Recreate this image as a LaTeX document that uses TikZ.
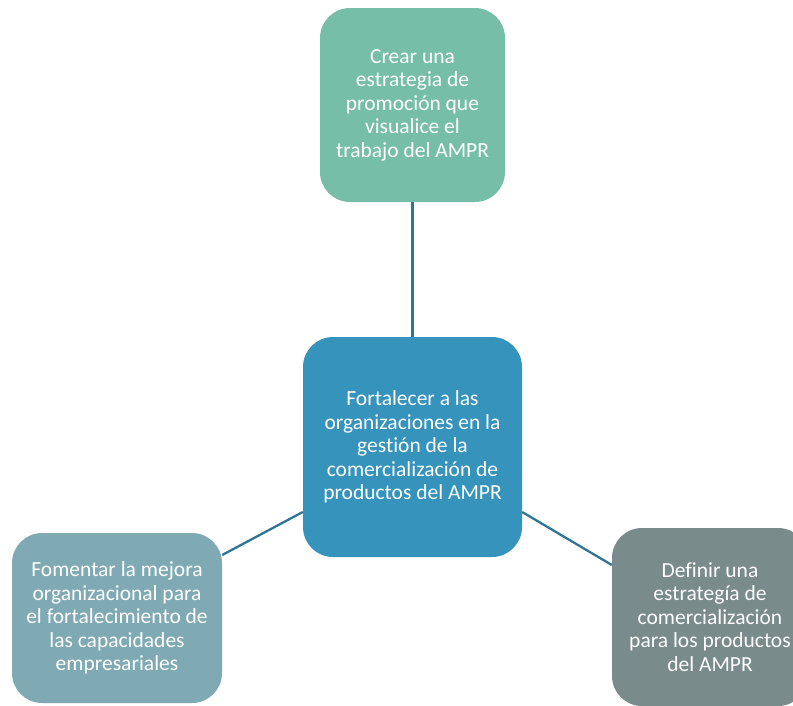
\documentclass[tikz,border=0pt]{standalone}
\usepackage{fontspec}
\setmainfont{Carlito}[Ligatures={NoCommon}]
\usepackage{tikz}

\definecolor{crear}{HTML}{76BEA8}
\definecolor{fortalecer}{HTML}{3593BC}
\definecolor{fomentar}{HTML}{7FAAB4}
\definecolor{definir}{HTML}{798B8A}
\definecolor{enlace}{HTML}{2E7596}

\begin{document}
\begin{tikzpicture}[x=1pt,y=1pt,
    caja/.style={rounded corners=30pt,text=white,align=center,font=\fontsize{21.5}{23.5}\selectfont},
    enlace/.style={draw=enlace,line width=2.3pt}]
    \useasboundingbox (0,0) rectangle (793,-705);
    \node[caja,fill=crear,minimum width=185,minimum height=194] (crear) at (412.5,-105)
        {Crear una\\estrategia de\\promoción que\\visualice el\\trabajo del AMPR};
    \node[caja,fill=fortalecer,minimum width=219,minimum height=220] (fortalecer) at (412.5,-447)
        {Fortalecer a las\\organizaciones en la\\gestión de la\\comercialización de\\productos del AMPR};
    \node[caja,fill=fomentar,minimum width=210,minimum height=170] (fomentar) at (117,-618)
        {Fomentar la mejora\\organizacional para\\el fortalecimiento de\\las capacidades\\empresariales};
    \node[caja,fill=definir,minimum width=196,minimum height=178] (definir) at (710,-617)
        {Definir una\\estrategía de\\comercialización\\para los productos\\del AMPR};
    \draw[enlace] (crear) -- (fortalecer);
    \draw[enlace] (fortalecer.west |- 0,-512) -- (fomentar.east |- 0,-555);
    \draw[enlace] (fortalecer.east |- 0,-512) -- (definir.west |- 0,-565);
\end{tikzpicture}
\end{document}
